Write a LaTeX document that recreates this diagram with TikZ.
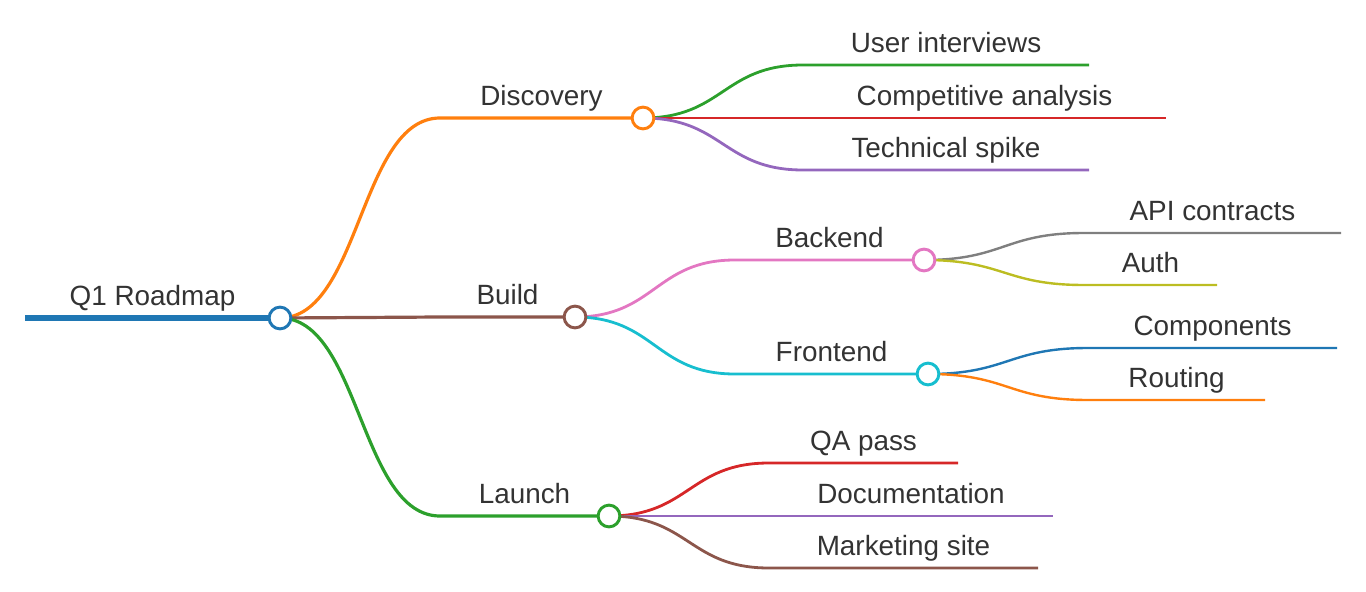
\documentclass[tikz,border=0pt]{standalone}
\usepackage{fontspec}
\setmainfont{Liberation Sans}
\definecolor{ink}{HTML}{333333}
\definecolor{tBlue}{HTML}{1F77B4}
\definecolor{tOrange}{HTML}{FF7F0E}
\definecolor{tGreen}{HTML}{2CA02C}
\definecolor{tRed}{HTML}{D62728}
\definecolor{tPurple}{HTML}{9467BD}
\definecolor{tBrown}{HTML}{8C564B}
\definecolor{tPink}{HTML}{E377C2}
\definecolor{tGray}{HTML}{7F7F7F}
\definecolor{tOlive}{HTML}{BCBD22}
\definecolor{tCyan}{HTML}{17BECF}

\begin{document}
\begin{tikzpicture}[x=0.75pt, y=-0.75pt,
    lbl/.style={font=\fontsize{20.9}{24}\selectfont, text=ink, anchor=base, yshift=9.6pt, inner sep=0pt},
    dot/.style={circle, draw=#1, fill=white, line width=2.2pt, minimum size=16.3pt, inner sep=0pt},
    lv0/.style={line width=3.8pt},
    lv1/.style={line width=2.4pt},
    lv2/.style={line width=2.1pt},
    lv3/.style={line width=1.8pt}]
    \useasboundingbox (0,0) rectangle (1366,592);

    % Anchor points
    \coordinate (root0) at (25,318);   \coordinate (root) at (280,318);
    \coordinate (disc0) at (440,118);  \coordinate (disc) at (643,118);
    \coordinate (build0) at (440,317); \coordinate (build) at (575,317);
    \coordinate (launch0) at (440,516);\coordinate (launch) at (609,516);
    \coordinate (back0) at (735,260);  \coordinate (back) at (924,260);
    \coordinate (front0) at (735,374); \coordinate (front) at (928,374);

    % Root
    \draw[lv0, tBlue] (root0) -- (root) node[lbl, midway] (rootL) {Q1 Roadmap};

    % Level 1
    \draw[lv1, tOrange] (root) .. controls +(80,0) and +(-80,0) .. (disc0)
        -- (disc) node[lbl, midway] (discL) {Discovery};
    \draw[lv1, tBrown] (root) .. controls +(80,0) and +(-80,0) .. (build0)
        -- (build) node[lbl, midway] (buildL) {Build};
    \draw[lv1, tGreen] (root) .. controls +(80,0) and +(-80,0) .. (launch0)
        -- (launch) node[lbl, midway] (launchL) {Launch};

    % Discovery
    \draw[lv2, tGreen] (disc) .. controls +(80,0) and +(-80,0) .. (803,65) coordinate (ui0)
        -- (1089,65) coordinate (ui) node[lbl, midway] (uiL) {User interviews};
    \draw[lv2, tRed] (disc) .. controls +(80,0) and +(-80,0) .. (803,118) coordinate (ca0)
        -- (1166,118) coordinate (ca) node[lbl, midway] (caL) {Competitive analysis};
    \draw[lv2, tPurple] (disc) .. controls +(80,0) and +(-80,0) .. (803,170) coordinate (ts0)
        -- (1089,170) coordinate (ts) node[lbl, midway] (tsL) {Technical spike};

    % Build
    \draw[lv2, tPink] (build) .. controls +(80,0) and +(-80,0) .. (back0)
        -- (back) node[lbl, midway] (backL) {Backend};
    \draw[lv2, tCyan] (build) .. controls +(80,0) and +(-80,0) .. (front0)
        -- (front) node[lbl, midway] (frontL) {Frontend};

    \draw[lv3, tGray] (back) .. controls +(80,0) and +(-80,0) .. (1084,233) coordinate (api0)
        -- (1341,233) coordinate (api) node[lbl, midway] (apiL) {API contracts};
    \draw[lv3, tOlive] (back) .. controls +(80,0) and +(-80,0) .. (1084,285) coordinate (auth0)
        -- (1217,285) coordinate (auth) node[lbl, midway] (authL) {Auth};
    \draw[lv3, tBlue] (front) .. controls +(80,0) and +(-80,0) .. (1088,348) coordinate (comp0)
        -- (1337,348) coordinate (comp) node[lbl, midway] (compL) {Components};
    \draw[lv3, tOrange] (front) .. controls +(80,0) and +(-80,0) .. (1088,400) coordinate (rout0)
        -- (1265,400) coordinate (rout) node[lbl, midway] (routL) {Routing};

    % Launch
    \draw[lv2, tRed] (launch) .. controls +(80,0) and +(-80,0) .. (769,463) coordinate (qa0)
        -- (958,463) coordinate (qa) node[lbl, midway] (qaL) {QA pass};
    \draw[lv2, tPurple] (launch) .. controls +(80,0) and +(-80,0) .. (769,516) coordinate (doc0)
        -- (1053,516) coordinate (doc) node[lbl, midway] (docL) {Documentation};
    \draw[lv2, tBrown] (launch) .. controls +(80,0) and +(-80,0) .. (769,568) coordinate (mkt0)
        -- (1038,568) coordinate (mkt) node[lbl, midway] (mktL) {Marketing site};

    % Circles
    \node[dot=tBlue] (rootC) at (root) {};
    \node[dot=tOrange] (discC) at (disc) {};
    \node[dot=tBrown] (buildC) at (build) {};
    \node[dot=tGreen] (launchC) at (launch) {};
    \node[dot=tPink] (backC) at (back) {};
    \node[dot=tCyan] (frontC) at (front) {};
\end{tikzpicture}
\end{document}
